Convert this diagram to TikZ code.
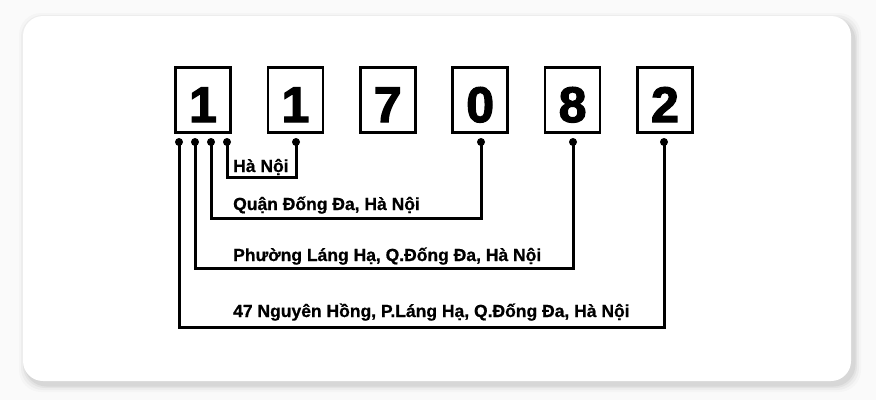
\documentclass[tikz,border=0pt]{standalone}
\usepackage{fontspec}
\setmainfont{Liberation Sans}[BoldFeatures={FakeBold=0.8}]
\newfontfamily\digitfont{Liberation Sans}[BoldFeatures={FakeBold=2.5}]
\usetikzlibrary{positioning}

\definecolor{pagebg}{HTML}{FAFAFA}
\newcommand*\boxstep{92.4}
\newcommand*\dotrow{142}
\tikzset{
    digitbox/.style={
        draw,
        line width=2.6pt,
        rectangle,
        fill=white,
        minimum width=55pt,
        minimum height=65pt,
        inner sep=0pt,
        text height=44pt,
        text depth=0pt,
        font=\digitfont\fontsize{50}{50}\selectfont\bfseries
    },
    pin/.style={circle, fill=black, inner sep=0pt, minimum size=8pt},
    place/.style={anchor=base west, font=\fontsize{17.5}{17.5}\selectfont\bfseries, inner sep=0pt},
    wire/.style={line width=3pt}
}

\begin{document}
\begin{tikzpicture}[x=1pt,y=-1pt]

    % Page and card.
    \useasboundingbox (0,0) rectangle (876,400);
    \fill[pagebg] (0,0) rectangle (876,400);
    \foreach \s/\o in {7/0.02,5/0.03,3/0.04,1.5/0.05}
        \fill[black,opacity=\o,rounded corners=22pt] (23-\s+3,16-\s+4) rectangle (851+\s+3,381+\s+4);
    \fill[white,rounded corners=20pt] (23,16) rectangle (851,381);

    % The six digits of the post code.
    \foreach \d [count=\i] in {1,1,7,0,8,2}
        \node[digitbox] (d\i) at ({203+\boxstep*(\i-1)},100) {\d};

    % Pins under the boxes.
    \node[pin] (a1) at (179,\dotrow) {};
    \node[pin] (a2) at (195,\dotrow) {};
    \node[pin] (a3) at (211,\dotrow) {};
    \node[pin] (a4) at (227,\dotrow) {};
    \node[pin] (b2) at (296,\dotrow) {};
    \node[pin] (b4) at (481,\dotrow) {};
    \node[pin] (b5) at (573,\dotrow) {};
    \node[pin] (b6) at (664,\dotrow) {};

    % Labels, placed on their baselines.
    \node[place] (city) at (233,172) {Hà Nội};
    \node[place] (district) at (233,210) {Quận Đống Đa, Hà Nội};
    \node[place] (ward) at (233,261) {Phường Láng Hạ, Q.Đống Đa, Hà Nội};
    \node[place] (street) at (233,317) {47 Nguyên Hồng, P.Láng Hạ, Q.Đống Đa, Hà Nội};

    % Brackets from pin to pin.
    \draw[wire] (a4.center) -- ++(0,35) -| (b2.center);
    \draw[wire] (a3.center) -- ++(0,76) -| (b4.center);
    \draw[wire] (a2.center) -- ++(0,126) -| (b5.center);
    \draw[wire] (a1.center) -- ++(0,185) -| (b6.center);

\end{tikzpicture}
\end{document}
